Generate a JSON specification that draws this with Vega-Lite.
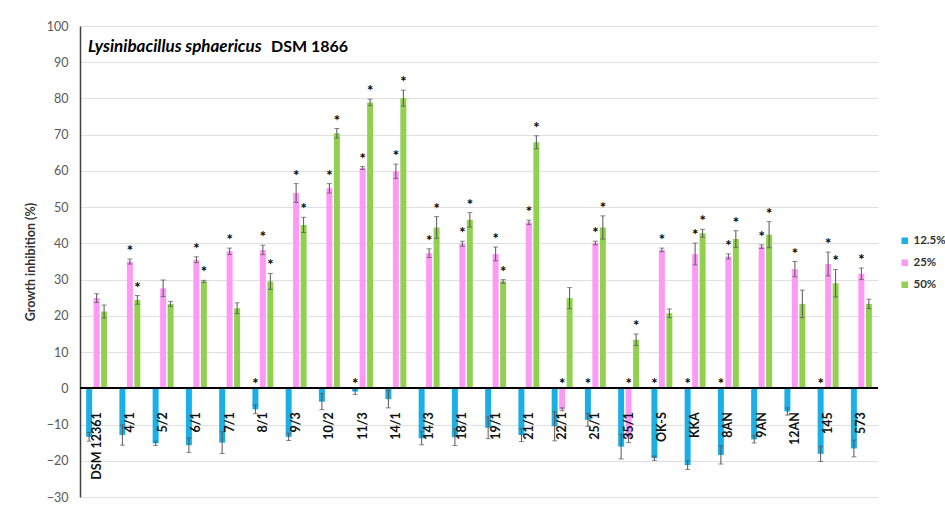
{
"$schema": "https://vega.github.io/schema/vega-lite/v6.json",
"width": 798, "height": 471,
"autosize": {"type": "none"},
"padding": {"left": 80, "top": 26, "right": 67, "bottom": 10},
"background": "white",
"config": {"view": {"stroke": null}, "font": "Lato",
  "axis": {"labelOverlap": false, "labelSeparation": 0},
  "axisY": {"labelOverlap": false, "grid": true, "gridColor": "#E0E0E0", "gridOpacity": 1, "domainColor": "#404040", "domainWidth": 1.5, "ticks": false, "labelPadding": 12, "labelFontSize": 12.5, "labelColor": "#595959", "titleFontSize": 12.5, "titleFontWeight": "bold", "titleColor": "#333333", "titlePadding": 9}},
"data": {"values": [
{"s":"DSM 12361","c":"12.5%","v":-13.4,"lo":-14.6,"hi":-12.2,"sig":0},
{"s":"DSM 12361","c":"25%","v":24.9,"lo":23.7,"hi":26.1,"sig":0},
{"s":"DSM 12361","c":"50%","v":21.2,"lo":19.4,"hi":23.0,"sig":0},
{"s":"4/1","c":"12.5%","v":-12.9,"lo":-15.7,"hi":-10.1,"sig":0},
{"s":"4/1","c":"25%","v":35.0,"lo":34.3,"hi":35.7,"sig":1},
{"s":"4/1","c":"50%","v":24.4,"lo":23.2,"hi":25.6,"sig":1},
{"s":"5/2","c":"12.5%","v":-15.2,"lo":-15.8,"hi":-14.6,"sig":0},
{"s":"5/2","c":"25%","v":27.6,"lo":25.3,"hi":29.9,"sig":0},
{"s":"5/2","c":"50%","v":23.3,"lo":22.6,"hi":24.0,"sig":0},
{"s":"6/1","c":"12.5%","v":-15.7,"lo":-17.7,"hi":-13.7,"sig":0},
{"s":"6/1","c":"25%","v":35.5,"lo":34.7,"hi":36.3,"sig":1},
{"s":"6/1","c":"50%","v":29.5,"lo":29.2,"hi":29.8,"sig":1},
{"s":"7/1","c":"12.5%","v":-15.0,"lo":-18.0,"hi":-12.0,"sig":0},
{"s":"7/1","c":"25%","v":37.8,"lo":36.9,"hi":38.7,"sig":1},
{"s":"7/1","c":"50%","v":22.1,"lo":20.6,"hi":23.6,"sig":0},
{"s":"8/1","c":"12.5%","v":-5.8,"lo":-7.0,"hi":-4.6,"sig":1},
{"s":"8/1","c":"25%","v":38.2,"lo":36.9,"hi":39.5,"sig":1},
{"s":"8/1","c":"50%","v":29.5,"lo":27.3,"hi":31.7,"sig":1},
{"s":"9/3","c":"12.5%","v":-13.4,"lo":-14.4,"hi":-12.4,"sig":0},
{"s":"9/3","c":"25%","v":53.9,"lo":51.3,"hi":56.5,"sig":1},
{"s":"9/3","c":"50%","v":45.1,"lo":43.0,"hi":47.2,"sig":1},
{"s":"10/2","c":"12.5%","v":-3.7,"lo":-5.9,"hi":-1.5,"sig":0},
{"s":"10/2","c":"25%","v":55.2,"lo":53.9,"hi":56.5,"sig":1},
{"s":"10/2","c":"50%","v":70.4,"lo":69.1,"hi":71.7,"sig":1},
{"s":"11/3","c":"12.5%","v":-0.9,"lo":-1.7,"hi":-0.1,"sig":1},
{"s":"11/3","c":"25%","v":60.8,"lo":60.4,"hi":61.2,"sig":1},
{"s":"11/3","c":"50%","v":78.9,"lo":78.0,"hi":79.8,"sig":1},
{"s":"14/1","c":"12.5%","v":-3.0,"lo":-5.4,"hi":-0.6,"sig":0},
{"s":"14/1","c":"25%","v":59.9,"lo":57.9,"hi":61.9,"sig":1},
{"s":"14/1","c":"50%","v":80.1,"lo":77.9,"hi":82.3,"sig":1},
{"s":"14/3","c":"12.5%","v":-13.8,"lo":-15.6,"hi":-12.0,"sig":0},
{"s":"14/3","c":"25%","v":37.3,"lo":36.1,"hi":38.5,"sig":1},
{"s":"14/3","c":"50%","v":44.4,"lo":41.4,"hi":47.4,"sig":1},
{"s":"18/1","c":"12.5%","v":-13.5,"lo":-15.8,"hi":-11.2,"sig":0},
{"s":"18/1","c":"25%","v":39.9,"lo":39.2,"hi":40.6,"sig":1},
{"s":"18/1","c":"50%","v":46.5,"lo":44.5,"hi":48.5,"sig":1},
{"s":"19/1","c":"12.5%","v":-10.9,"lo":-13.9,"hi":-7.9,"sig":0},
{"s":"19/1","c":"25%","v":37.1,"lo":35.2,"hi":39.0,"sig":1},
{"s":"19/1","c":"50%","v":29.5,"lo":29.0,"hi":30.0,"sig":1},
{"s":"21/1","c":"12.5%","v":-12.9,"lo":-14.7,"hi":-11.1,"sig":0},
{"s":"21/1","c":"25%","v":45.8,"lo":45.2,"hi":46.4,"sig":1},
{"s":"21/1","c":"50%","v":67.9,"lo":66.1,"hi":69.7,"sig":1},
{"s":"22/1","c":"12.5%","v":-10.5,"lo":-14.5,"hi":-6.5,"sig":0},
{"s":"22/1","c":"25%","v":-5.8,"lo":-6.2,"hi":-5.4,"sig":1},
{"s":"22/1","c":"50%","v":24.9,"lo":22.0,"hi":27.8,"sig":0},
{"s":"25/1","c":"12.5%","v":-8.7,"lo":-10.5,"hi":-6.9,"sig":1},
{"s":"25/1","c":"25%","v":40.1,"lo":39.6,"hi":40.6,"sig":1},
{"s":"25/1","c":"50%","v":44.4,"lo":41.2,"hi":47.6,"sig":1},
{"s":"35/1","c":"12.5%","v":-16.1,"lo":-19.5,"hi":-12.7,"sig":0},
{"s":"35/1","c":"25%","v":-14.0,"lo":-15.0,"hi":-13.0,"sig":1},
{"s":"35/1","c":"50%","v":13.4,"lo":11.8,"hi":15.0,"sig":1},
{"s":"OK-S","c":"12.5%","v":-19.3,"lo":-19.9,"hi":-18.7,"sig":1},
{"s":"OK-S","c":"25%","v":38.2,"lo":37.7,"hi":38.7,"sig":1},
{"s":"OK-S","c":"50%","v":20.7,"lo":19.5,"hi":21.9,"sig":0},
{"s":"KKA","c":"12.5%","v":-21.2,"lo":-22.4,"hi":-20.0,"sig":1},
{"s":"KKA","c":"25%","v":37.1,"lo":34.1,"hi":40.1,"sig":1},
{"s":"KKA","c":"50%","v":42.8,"lo":41.7,"hi":43.9,"sig":1},
{"s":"8AN","c":"12.5%","v":-18.4,"lo":-20.9,"hi":-15.9,"sig":1},
{"s":"8AN","c":"25%","v":36.4,"lo":35.7,"hi":37.1,"sig":1},
{"s":"8AN","c":"50%","v":41.2,"lo":38.9,"hi":43.5,"sig":1},
{"s":"9AN","c":"12.5%","v":-14.1,"lo":-15.1,"hi":-13.1,"sig":0},
{"s":"9AN","c":"25%","v":39.1,"lo":38.6,"hi":39.6,"sig":1},
{"s":"9AN","c":"50%","v":42.4,"lo":38.8,"hi":46.0,"sig":1},
{"s":"12AN","c":"12.5%","v":-6.4,"lo":-7.4,"hi":-5.4,"sig":0},
{"s":"12AN","c":"25%","v":32.9,"lo":30.8,"hi":35.0,"sig":1},
{"s":"12AN","c":"50%","v":23.3,"lo":19.5,"hi":27.1,"sig":0},
{"s":"145","c":"12.5%","v":-18.1,"lo":-20.2,"hi":-16.0,"sig":1},
{"s":"145","c":"25%","v":34.3,"lo":31.0,"hi":37.6,"sig":1},
{"s":"145","c":"50%","v":29.0,"lo":25.2,"hi":32.8,"sig":1},
{"s":"573","c":"12.5%","v":-16.6,"lo":-18.9,"hi":-14.3,"sig":0},
{"s":"573","c":"25%","v":31.6,"lo":30.0,"hi":33.2,"sig":1},
{"s":"573","c":"50%","v":23.3,"lo":22.0,"hi":24.6,"sig":0}
]},
"layer": [
{"mark": {"type": "bar"},
 "encoding": {
  "x": {"field": "s", "type": "nominal", "sort": null, "scale": {"paddingInner": 0.37, "paddingOuter": 0.185}, "axis": null},
  "xOffset": {"field": "c", "type": "nominal", "scale": {"paddingInner": 0.2, "paddingOuter": 0}},
  "y": {"field": "v", "type": "quantitative", "scale": {"domain": [-30, 100], "nice": false, "zero": false},
   "axis": {"title": "Growth inhibition (%)", "labelOverlap": false, "tickCount": 13, "titleFontSize": 12.5}},
  "color": {"field": "c", "type": "nominal", "scale": {"domain": ["12.5%", "25%", "50%"], "range": ["#1AAFE6", "#FF99F5", "#92D050"]},
   "legend": {"title": null, "orient": "none", "legendX": 819, "legendY": 209, "symbolType": "square", "symbolSize": 42, "symbolStrokeWidth": 0, "labelFontSize": 11.5, "labelFontWeight": "bold", "labelColor": "#333333", "rowPadding": 9, "labelOffset": 3}}
 }},
{"mark": {"type": "rule", "color": "#555555", "strokeWidth": 1},
 "encoding": {
  "x": {"field": "s", "type": "nominal", "sort": null},
  "xOffset": {"field": "c", "type": "nominal"},
  "y": {"field": "lo", "type": "quantitative"},
  "y2": {"field": "hi"}
 }},
{"mark": {"type": "tick", "color": "#555555", "thickness": 1, "size": 5, "orient": "horizontal"},
 "encoding": {
  "x": {"field": "s", "type": "nominal", "sort": null},
  "xOffset": {"field": "c", "type": "nominal"},
  "y": {"field": "lo", "type": "quantitative"}
 }},
{"mark": {"type": "tick", "color": "#555555", "thickness": 1, "size": 5, "orient": "horizontal"},
 "encoding": {
  "x": {"field": "s", "type": "nominal", "sort": null},
  "xOffset": {"field": "c", "type": "nominal"},
  "y": {"field": "hi", "type": "quantitative"}
 }},
{"mark": {"type": "rule", "color": "#000000", "strokeWidth": 1.3},
 "encoding": {"y": {"datum": 0}}},
{"transform": [{"filter": "datum.sig == 1 && datum.v >= 0"}],
 "mark": {"type": "text", "text": "*", "fontSize": 15, "fontWeight": "bold", "color": "#000000", "baseline": "alphabetic", "dy": -3},
 "encoding": {
  "x": {"field": "s", "type": "nominal", "sort": null},
  "xOffset": {"field": "c", "type": "nominal"},
  "y": {"field": "hi", "type": "quantitative"}
 }},
{"transform": [{"filter": "datum.sig == 1 && datum.v < 0"}],
 "mark": {"type": "text", "text": "*", "fontSize": 15, "fontWeight": "bold", "color": "#000000", "baseline": "alphabetic", "dy": 1},
 "encoding": {
  "x": {"field": "s", "type": "nominal", "sort": null},
  "xOffset": {"field": "c", "type": "nominal"},
  "y": {"datum": 0}
 }},
{"transform": [{"filter": "datum.c == '12.5%'"}],
 "mark": {"type": "text", "angle": 270, "align": "right", "baseline": "middle", "fontSize": 12.5, "fontWeight": "bold", "color": "#111111"},
 "encoding": {
  "x": {"field": "s", "type": "nominal", "sort": null},
  "y": {"datum": -6.6},
  "text": {"field": "s"}
 }},
{"transform": [{"filter": "datum.s == 'DSM 12361' && datum.c == '12.5%'"}],
 "mark": {"type": "text", "text": "Lysinibacillus sphaericus", "align": "left", "baseline": "alphabetic", "fontSize": 17, "fontStyle": "italic", "fontWeight": "bold", "color": "#000000", "dx": -8.6},
 "encoding": {
  "x": {"field": "s", "type": "nominal", "sort": null},
  "y": {"datum": 92.8}
 }},
{"transform": [{"filter": "datum.s == 'DSM 12361' && datum.c == '12.5%'"}],
 "mark": {"type": "text", "text": "DSM 1866", "align": "left", "baseline": "alphabetic", "fontSize": 16, "fontWeight": "bold", "color": "#000000", "dx": 174.4},
 "encoding": {
  "x": {"field": "s", "type": "nominal", "sort": null},
  "y": {"datum": 92.8}
 }}
]
}
